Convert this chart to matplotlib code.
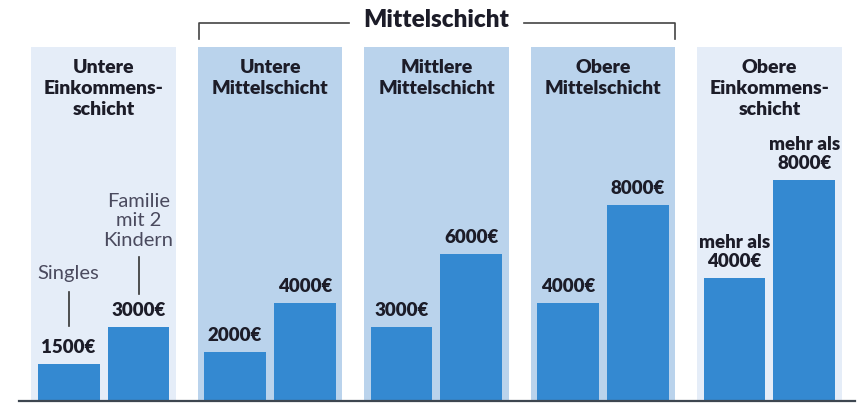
import matplotlib.pyplot as plt

# data
groups = ["Untere\nEinkommens-\nschicht", "Untere\nMittelschicht", "Mittlere\nMittelschicht",
          "Obere\nMittelschicht", "Obere\nEinkommens-\nschicht"]
singles = [1500, 2000, 3000, 4000, 5000]
families = [3000, 4000, 6000, 8000, 9000]
singles_labels = ["1500€", "2000€", "3000€", "4000€", "mehr als\n4000€"]
families_labels = ["3000€", "4000€", "6000€", "8000€", "mehr als\n8000€"]
panel_colors = ["#e5edf8", "#bad3ec", "#bad3ec", "#bad3ec", "#e5edf8"]

plt.rcParams['font.family'] = ['Lato', 'DejaVu Sans']

BAR = "#3489d1"
DARK = "#1c1c28"
GREY = "#4a4a5e"
PX = 40.8  # value units per pixel

fig = plt.figure(figsize=(8.59, 4.03), dpi=100)
ax = fig.add_axes([0, 0, 1, 1])
ax.set_xlim(-0.622, 4.538)
ax.set_ylim(-2 * PX, 401 * PX)
ax.axis('off')

x = list(range(len(groups)))
panel_top = 354 * PX
ax.bar(x, [panel_top] * len(x), width=0.87, color=panel_colors, zorder=0)

off = 0.21
w = 0.372
xs = [i - off for i in x]
xf = [i + off for i in x]
ax.bar(xs, singles, width=w, color=BAR, zorder=2)
ax.bar(xf, families, width=w, color=BAR, zorder=2)

for xi, v, lab in zip(xs, singles, singles_labels):
    ax.annotate(lab, (xi, v), xytext=(0, 6), textcoords='offset points',
                ha='center', va='bottom', fontsize=13.5, fontweight='heavy',
                color=DARK, linespacing=1.15)
for xi, v, lab in zip(xf, families, families_labels):
    ax.annotate(lab, (xi, v), xytext=(0, 6), textcoords='offset points',
                ha='center', va='bottom', fontsize=13.5, fontweight='heavy',
                color=DARK, linespacing=1.15)

# panel titles
tr = ax.get_xaxis_transform()
for xi, g in zip(x, groups):
    ax.text(xi, 1 - 59 / 403, g, transform=tr, ha='center', va='top',
            fontsize=14, fontweight='heavy', color=DARK, linespacing=1.27)

# Mittelschicht bracket
ax.text(2, 1 - 20 / 403, "Mittelschicht", transform=tr, ha='center', va='center',
        fontsize=17.5, fontweight='heavy', color=DARK)
yb = 1 - 23 / 403
yb2 = 1 - 39 / 403
ax.plot([0.574, 0.574, 1.474], [yb2, yb, yb], transform=tr, color="#444444", lw=1.2)
ax.plot([2.526, 3.432, 3.432], [yb, yb, yb2], transform=tr, color="#444444", lw=1.2)

# Singles / Familie notes
ax.text(xs[0], 1 - 273 / 403, "Singles", transform=tr, ha='center', va='center',
        fontsize=14.5, color=GREY)
ax.plot([xs[0], xs[0]], [1 - 292 / 403, 1 - 326 / 403], transform=tr, color="#333333", lw=1.2)
ax.text(xf[0], 1 - 221 / 403, "Familie\nmit 2\nKindern", transform=tr, ha='center',
        va='center', fontsize=14.5, color=GREY, linespacing=1.15)
ax.plot([xf[0], xf[0]], [1 - 257 / 403, 1 - 294 / 403], transform=tr, color="#333333", lw=1.2)

# baseline
ax.plot([-0.505, 4.514], [0, 0], color="#3d4650", lw=1.6, zorder=3)

fig.savefig("out.png", dpi=100)
